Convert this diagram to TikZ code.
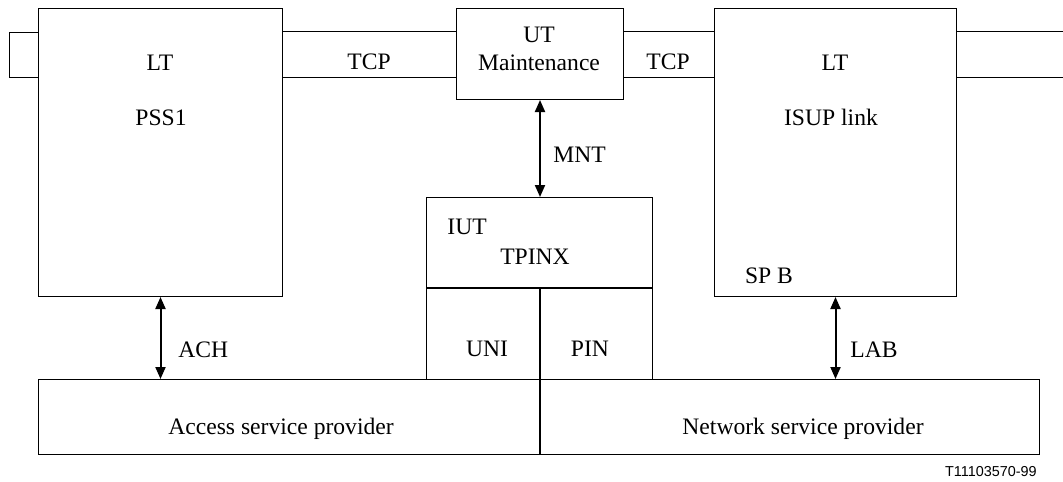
\documentclass[tikz,border=0pt]{standalone}
\usepackage{fontspec}
\setmainfont{Liberation Serif}
\newfontfamily\labfont{Liberation Sans}
\usetikzlibrary{arrows.meta,calc}
\tikzset{
  box/.style={draw, line width=0.5pt, inner sep=0pt, anchor=north west},
  txt/.style={inner sep=0pt, anchor=base, font=\fontsize{11.8}{13}\selectfont},
  txtw/.style={txt, anchor=base west},
  ln/.style={line width=0.5pt},
  thk/.style={line width=1pt},
  biarrow/.style={line width=1pt, {Triangle[length=6pt,width=5pt]}-{Triangle[length=6pt,width=5pt]}}
}
\begin{document}
\begin{tikzpicture}[x=0.5pt,y=-0.5pt]
\useasboundingbox (0,0) rectangle (1063,481);
% boxes
\node[box, minimum width=14.5pt, minimum height=22.5pt] (stub) at (9,32) {};
\node[box, fill=white, minimum width=122pt, minimum height=144pt] (LTL) at (38,8) {};
\node[box, minimum width=83.5pt, minimum height=45.5pt] (UT) at (456,8) {};
\node[box, minimum width=121pt, minimum height=144pt] (LTR) at (714,8) {};
\node[box, minimum width=113pt, minimum height=91pt] (IUT) at (426,197) {};
\node[box, minimum width=500.5pt, minimum height=37.5pt] (bot) at (38,379) {};
\coordinate (edge) at (1063,0);
\coordinate (split) at (540,288);
% TCP lines
\draw[ln] (LTL.east |- stub.north) -- (UT.west |- stub.north);
\draw[ln] (LTL.east |- stub.south) -- (UT.west |- stub.south);
\draw[ln] (UT.east |- stub.north) -- (LTR.west |- stub.north);
\draw[ln] (UT.east |- stub.south) -- (LTR.west |- stub.south);
\draw[ln] (LTR.east |- stub.north) -- (edge |- stub.north);
\draw[ln] (LTR.east |- stub.south) -- (edge |- stub.south);
% IUT internals
\draw[thk] (IUT.west |- split) -- (IUT.east |- split);
\draw[thk] (split) -- (split |- bot.south);
% arrows
\draw[biarrow] (LTL.south) -- (LTL.south |- bot.north);
\draw[biarrow] (LTR.south) -- (LTR.south |- bot.north);
\draw[biarrow] (UT.south) -- (UT.south |- IUT.north);
% texts
\node[txt] (t1) at (160,71) {LT};
\node[txt] (t2) at (161,125) {PSS1};
\node[txt] (t3) at (369,69) {TCP};
\node[txt] (t4) at (539,43) {UT};
\node[txt] (t5) at (539,71) {Maintenance};
\node[txt] (t6) at (668,69) {TCP};
\node[txt] (t7) at (835,71) {LT};
\node[txt] (t8) at (831,125) {ISUP link};
\node[txt] (t9) at (769,283) {SP B};
\node[txtw] (t10) at (553,162) {MNT};
\node[txtw] (t11) at (447,234) {IUT};
\node[txt] (t12) at (535,264) {TPINX};
\node[txt] (t13) at (487,356) {UNI};
\node[txt] (t14) at (590,356) {PIN};
\node[txtw] (t15) at (178,357) {ACH};
\node[txtw] (t16) at (850,357) {LAB};
\node[txt] (t17) at (281,434) {Access service provider};
\node[txt] (t18) at (803,434) {Network service provider};
\node[inner sep=0pt, anchor=base east, font=\labfont\fontsize{7.2}{8}\selectfont] (t19) at (1037,476) {T11103570-99};
\end{tikzpicture}
\end{document}
